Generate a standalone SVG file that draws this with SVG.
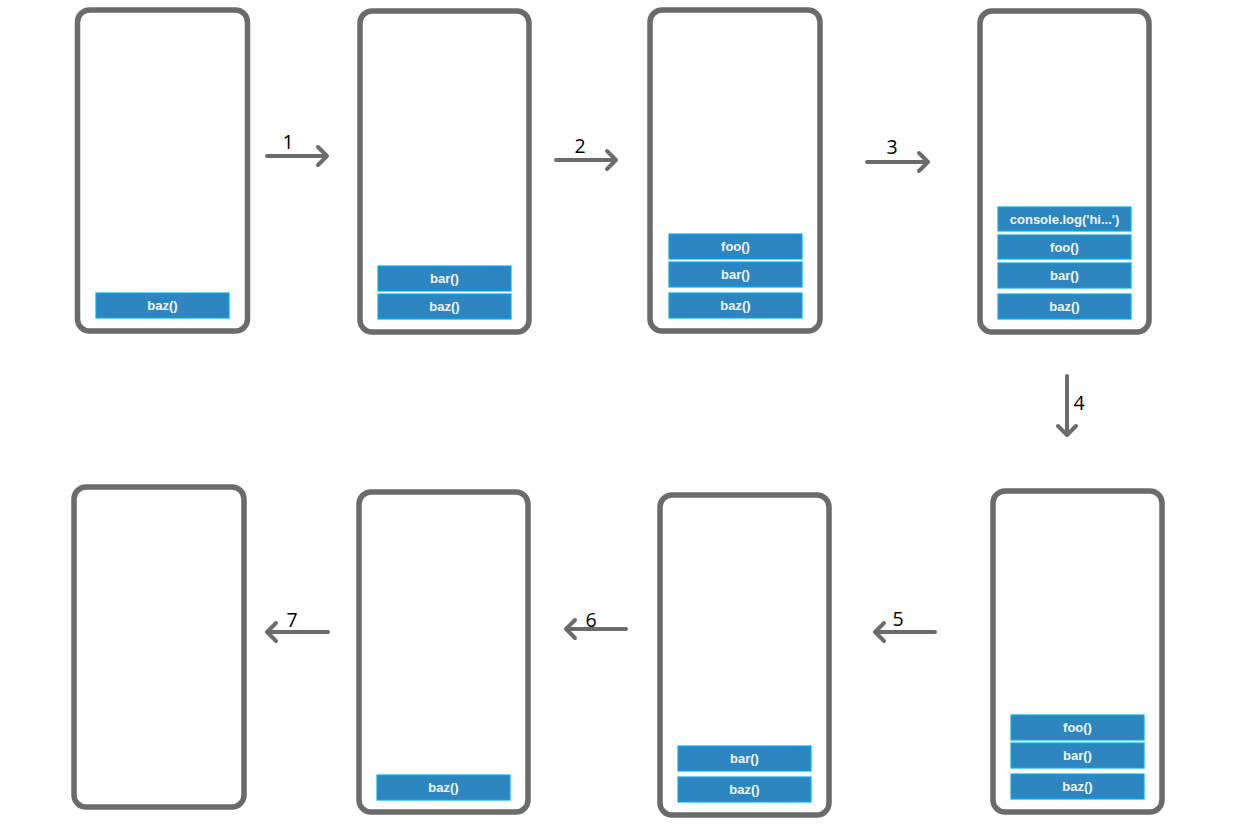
<svg xmlns="http://www.w3.org/2000/svg" width="1240" height="840" viewBox="0 0 1240 840">
<style>
.phone{fill:#fff;stroke:#6b6b6b;stroke-width:5.5}
.frame{fill:#2e86c1;stroke:#00b0f0;stroke-width:1.2}
.ft{font-family:"Liberation Sans",Arial,sans-serif;font-weight:bold;font-size:13px;fill:#f2f6fa;text-anchor:middle}
.arr{fill:none;stroke:#6b6b6b;stroke-width:4;stroke-linecap:round;stroke-linejoin:round}
.lbl{font-family:"Open Sans","Noto Sans",sans-serif;font-size:19.5px;fill:#000;text-anchor:middle}
</style>
<rect width="1240" height="840" fill="#fff"/>
<g id="phone1">
<rect class="phone" x="77.5" y="10" width="170" height="321" rx="12"/>
<rect class="frame" x="96" y="293" width="133" height="25"/><text class="ft" x="162.5" y="310">baz()</text>
</g>
<g id="phone2">
<rect class="phone" x="360" y="11" width="169" height="321" rx="12"/>
<rect class="frame" x="378" y="266" width="133" height="25"/><text class="ft" x="444.5" y="283">bar()</text>
<rect class="frame" x="378" y="294" width="133" height="25"/><text class="ft" x="444.5" y="311">baz()</text>
</g>
<g id="phone3">
<rect class="phone" x="650" y="10" width="170" height="321" rx="12"/>
<rect class="frame" x="669" y="234" width="133" height="25"/><text class="ft" x="735.5" y="251">foo()</text>
<rect class="frame" x="669" y="262" width="133" height="25"/><text class="ft" x="735.5" y="279">bar()</text>
<rect class="frame" x="669" y="293" width="133" height="25"/><text class="ft" x="735.5" y="310">baz()</text>
</g>
<g id="phone4">
<rect class="phone" x="980" y="11" width="169" height="321" rx="12"/>
<rect class="frame" x="998" y="207" width="133" height="24"/><text class="ft" x="1064.5" y="224">console.log('hi...')</text>
<rect class="frame" x="998" y="235" width="133" height="24"/><text class="ft" x="1064.5" y="252">foo()</text>
<rect class="frame" x="998" y="263" width="133" height="25"/><text class="ft" x="1064.5" y="280">bar()</text>
<rect class="frame" x="998" y="294" width="133" height="25"/><text class="ft" x="1064.5" y="311">baz()</text>
</g>
<g id="phone5">
<rect class="phone" x="993" y="491" width="169" height="321" rx="12"/>
<rect class="frame" x="1011" y="715" width="133" height="25"/><text class="ft" x="1077.5" y="732">foo()</text>
<rect class="frame" x="1011" y="743" width="133" height="25"/><text class="ft" x="1077.5" y="760">bar()</text>
<rect class="frame" x="1011" y="774" width="133" height="25"/><text class="ft" x="1077.5" y="791">baz()</text>
</g>
<g id="phone6">
<rect class="phone" x="660" y="495" width="169" height="320" rx="12"/>
<rect class="frame" x="678" y="746" width="133" height="25"/><text class="ft" x="744.5" y="763">bar()</text>
<rect class="frame" x="678" y="777" width="133" height="25"/><text class="ft" x="744.5" y="794">baz()</text>
</g>
<g id="phone7">
<rect class="phone" x="359" y="492" width="169" height="320" rx="12"/>
<rect class="frame" x="377" y="775" width="133" height="25"/><text class="ft" x="443.5" y="792">baz()</text>
</g>
<g id="phone8">
<rect class="phone" x="74" y="487" width="170" height="320" rx="12"/>
</g>
<g id="connectors">
<path class="arr" d="M267 156H327M318 147L327 156L318 165"/>
<path class="arr" d="M556 160H616M607 151L616 160L607 169"/>
<path class="arr" d="M867 162H928M919 153L928 162L919 171"/>
<path class="arr" d="M1067 376V435M1058 426L1067 435L1076 426"/>
<path class="arr" d="M935 632H875M884 623L875 632L884 641"/>
<path class="arr" d="M626 629H566M575 620L566 629L575 638"/>
<path class="arr" d="M328 632H267M276 623L267 632L276 641"/>
<text class="lbl" x="288" y="149">1</text>
<text class="lbl" x="580" y="153">2</text>
<text class="lbl" x="892" y="154">3</text>
<text class="lbl" x="1079" y="410">4</text>
<text class="lbl" x="898" y="626">5</text>
<text class="lbl" x="591" y="627">6</text>
<text class="lbl" x="292" y="627">7</text>
</g>
</svg>
